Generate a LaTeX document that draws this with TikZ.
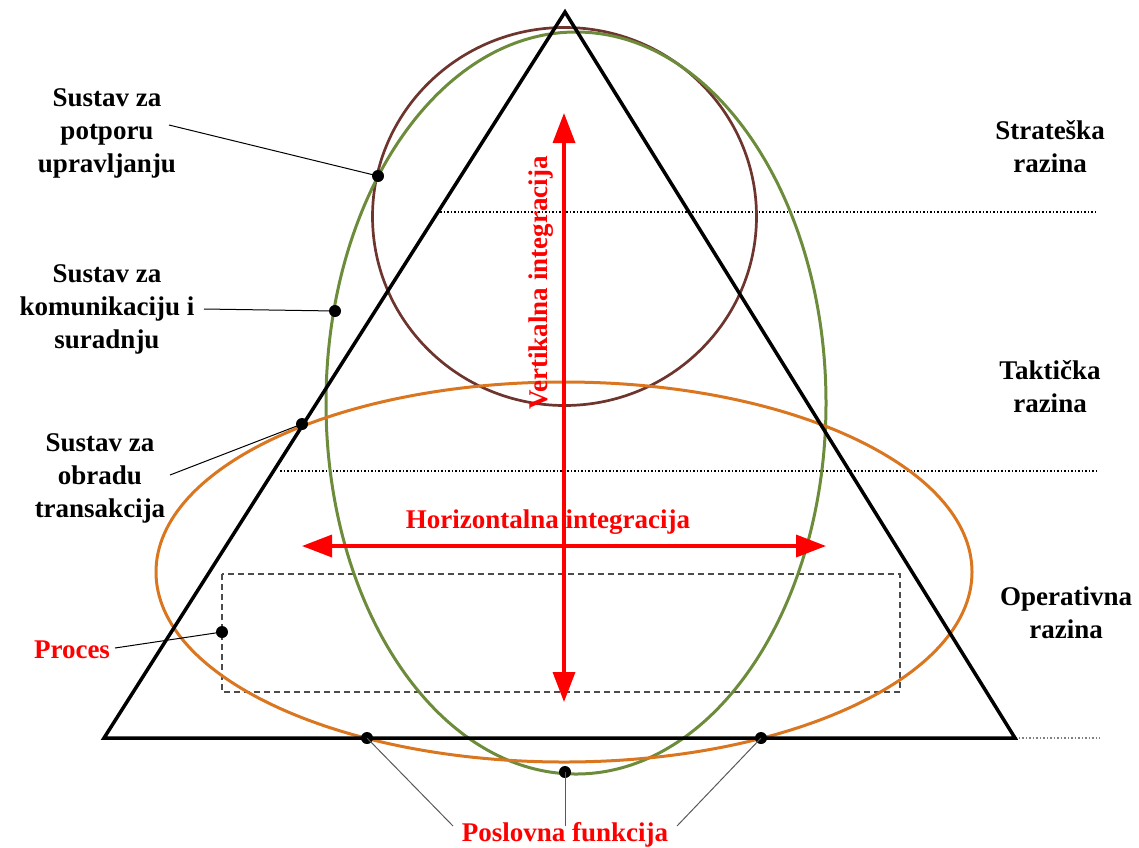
\documentclass[tikz,border=0pt]{standalone}
\usepackage{fontspec}
\setmainfont{Liberation Serif}
\usetikzlibrary{arrows.meta}
\definecolor{brownc}{RGB}{110,52,46}
\definecolor{greenc}{RGB}{108,140,60}
\definecolor{orangec}{RGB}{218,118,32}
\tikzset{
  lbl/.style={font=\fontsize{27}{33}\selectfont\bfseries, align=center, inner sep=0pt},
  redlbl/.style={lbl, text=red},
  blackdot/.style={circle, fill=black, inner sep=0pt, minimum size=12pt},
  leader/.style={line width=1pt, black},
  grayleader/.style={line width=1pt, black!65},
  levelline/.style={line width=1.2pt, dash pattern=on 1.5pt off 2pt},
  redarrow/.style={red, line width=3.5pt, {Triangle[length=30pt,width=22pt]}-{Triangle[length=30pt,width=22pt]}},
  shapeline/.style={line width=3pt}
}
\begin{document}
\begin{tikzpicture}[x=1pt,y=-1pt]
\useasboundingbox (0,0) rectangle (1139,847);
% level lines
\coordinate (l1a) at (440,212); \coordinate (l1b) at (1098,212);
\coordinate (l2a) at (280,471); \coordinate (l2b) at (1098,471);
\coordinate (l3a) at (1015,738); \coordinate (l3b) at (1100,738);
\draw[levelline] (l1a) -- (l1b);
\draw[levelline] (l2a) -- (l2b);
\draw[levelline, black!50, line width=1.6pt] (l3a) -- (l3b);
% process rectangle
\draw[black!70, line width=1.3pt, dash pattern=on 6pt off 4pt] (222,574) rectangle (900,692);
% ellipses
\draw[line width=2.7pt, brownc] (564.5,216.5) ellipse [x radius=192, y radius=189];
\draw[shapeline, greenc] (576,403) ellipse [x radius=250, y radius=371];
\draw[shapeline, orangec] (564,572) ellipse [x radius=408, y radius=190];
% triangle
\coordinate (apex) at (565,12);
\coordinate (bl) at (104,738);
\coordinate (br) at (1015,738);
\draw[line width=3.5pt, line join=miter] (apex) -- (bl) -- (br) -- cycle;
% red arrows
\coordinate (vt) at (564,113); \coordinate (vb) at (564,702);
\coordinate (hl) at (302,546); \coordinate (hr) at (826,546);
\draw[redarrow] (vb) -- (vt);
\draw[redarrow] (hl) -- (hr);
\node[redlbl, rotate=90] (vert) at (541,283) {Vertikalna integracija};
\node[redlbl] (horiz) at (548,522) {Horizontalna integracija};
% right labels
\node[lbl] (strat) at (1050,147) {Strateška\\razina};
\node[lbl] (takt) at (1050,387) {Taktička\\razina};
\node[lbl] (oper) at (1066,613) {Operativna\\razina};
% left labels
\node[lbl] (dss) at (107,133) {Sustav za\\potporu\\upravljanju};
\node[lbl] (kom) at (107,309) {Sustav za\\komunikaciju i\\suradnju};
\node[lbl] (tps) at (100,478) {Sustav za\\obradu\\transakcija};
\node[redlbl] (proc) at (72,650) {Proces};
\node[redlbl, anchor=south] (posl) at (565,847) {Poslovna funkcija};
% dots
\node[blackdot] (d1) at (378,176) {};
\node[blackdot] (d2) at (335,311) {};
\node[blackdot] (d3) at (302,424) {};
\node[blackdot] (d4) at (222,632) {};
\node[blackdot] (d5) at (367,738) {};
\node[blackdot] (d6) at (565,772) {};
\node[blackdot] (d7) at (761,738) {};
% leader starts
\coordinate (s1) at (169,125);
\coordinate (s2) at (204,309);
\coordinate (s3) at (170,475);
\coordinate (s4) at (115,648);
\coordinate (s5) at (453,826);
\coordinate (s6) at (565,826);
\coordinate (s7) at (677,826);
\draw[leader] (s1) -- (d1.center);
\draw[leader] (s2) -- (d2.center);
\draw[leader] (s3) -- (d3.center);
\draw[leader] (s4) -- (d4.center);
\draw[grayleader] (s5) -- (d5.center);
\draw[grayleader] (s6) -- (d6.center);
\draw[grayleader] (s7) -- (d7.center);
\end{tikzpicture}
\end{document}
